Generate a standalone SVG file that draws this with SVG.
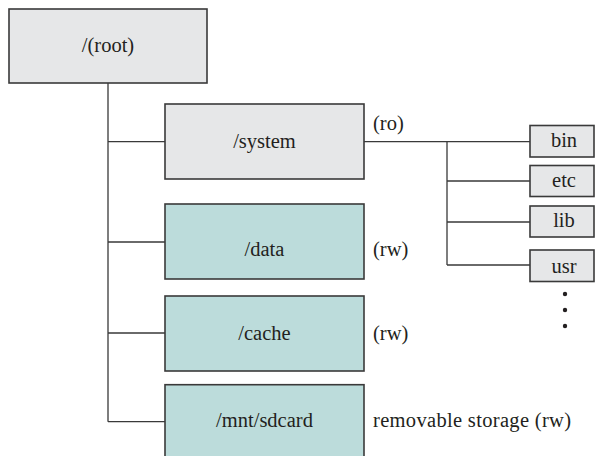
<svg xmlns="http://www.w3.org/2000/svg" width="595" height="456" viewBox="0 0 595 456">
<style>
.gray{fill:#e6e7e8;stroke:#3a3a3a;stroke-width:1.6}
.teal{fill:#bcdcdb;stroke:#3a3a3a;stroke-width:1.6}
.t{font-family:"Liberation Serif","Times New Roman",serif;font-size:20.5px;fill:#231f20}
.c{text-anchor:middle}
.ln{fill:none;stroke:#3a3a3a;stroke-width:1.3}
</style>
<rect width="595" height="456" fill="#ffffff"/>
<g id="connectors">
<path class="ln" d="M108,83 V421.7 M108,141.7 H165 M108,242 H165 M108,333 H165 M108,421.7 H165"/>
<path class="ln" d="M364,141.7 H530 M447,141.7 V265 M447,181 H530 M447,222 H530 M447,265 H530"/>
</g>
<g id="root"><rect class="gray" x="9" y="9" width="198" height="74"/><text class="t c" x="108" y="52">/(root)</text></g>
<g id="system"><rect class="gray" x="165" y="104" width="199" height="75"/><text class="t c" x="264.5" y="148">/system</text><text class="t" x="373" y="130">(ro)</text></g>
<g id="data"><rect class="teal" x="165" y="204" width="199" height="75"/><text class="t c" x="264.5" y="256">/data</text><text class="t" x="373" y="256">(rw)</text></g>
<g id="cache"><rect class="teal" x="165" y="296" width="199" height="75"/><text class="t c" x="264.5" y="340">/cache</text><text class="t" x="373" y="340">(rw)</text></g>
<g id="mnt"><rect class="teal" x="165" y="384.7" width="199" height="80"/><text class="t c" x="264.5" y="427">/mnt/sdcard</text><text class="t" x="373" y="427" textLength="198" lengthAdjust="spacing">removable storage (rw)</text></g>
<g id="bin"><rect class="gray" x="530" y="125.5" width="64" height="31.5"/><text class="t c" x="564" y="147">bin</text></g>
<g id="etc"><rect class="gray" x="530" y="165.5" width="64" height="31"/><text class="t c" x="564" y="187">etc</text></g>
<g id="lib"><rect class="gray" x="530" y="206" width="64" height="31"/><text class="t c" x="564" y="227">lib</text></g>
<g id="usr"><rect class="gray" x="530" y="250" width="64" height="31.5"/><text class="t c" x="564" y="273">usr</text></g>
<g id="dots" fill="#231f20"><circle cx="565" cy="294" r="2.2"/><circle cx="565" cy="310" r="2.2"/><circle cx="565" cy="326" r="2.2"/></g>
</svg>
